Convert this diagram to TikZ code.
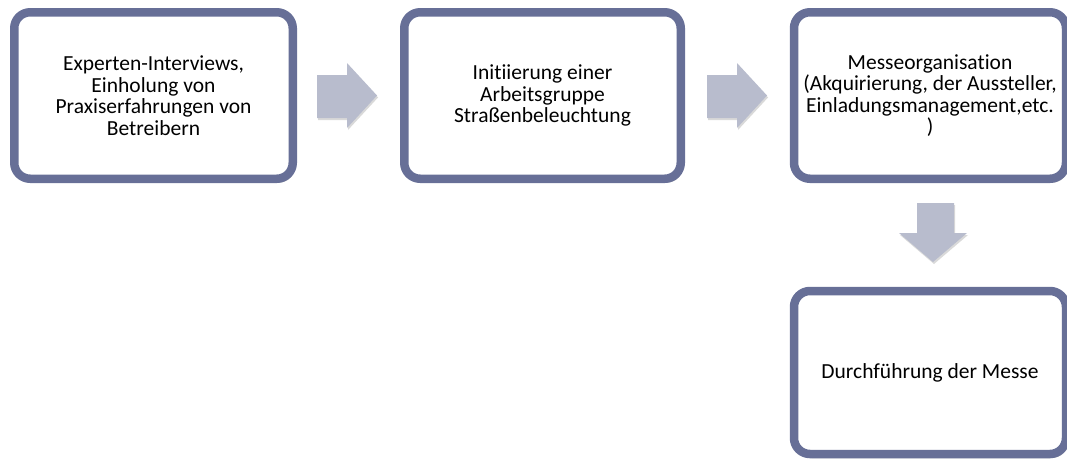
\documentclass[tikz,border=0pt]{standalone}
\usepackage{fontspec}
\setmainfont{Carlito}[RawFeature=-liga]
\usetikzlibrary{shadows}
\definecolor{boxline}{HTML}{676F97}
\definecolor{arrowfill}{HTML}{B8BCCD}
\tikzset{
  stepbox/.style={draw=boxline, line width=8.5pt, rounded corners=16pt, fill=white,
    inner sep=0pt, align=center, font=\fontsize{21.5}{21.6}\selectfont,
    drop shadow={shadow xshift=2pt, shadow yshift=-4pt, opacity=0.22, fill=black}},
  flowarrow/.style={fill=arrowfill, draw=none,
    drop shadow={shadow xshift=1pt, shadow yshift=-2pt, opacity=0.15, fill=black}}
}
\begin{document}
\begin{tikzpicture}[x=1pt,y=-1pt]
\useasboundingbox (0,0) rectangle (1067,459);
\begin{scope}
\clip (0,0) rectangle (1067,459);
\node[stepbox, minimum width=278.5pt, minimum height=166.5pt] (b1) at (153.5,95.5)
  {Experten-Interviews,\\Einholung von\\Praxiserfahrungen von\\Betreibern};
\node[stepbox, minimum width=276.5pt, minimum height=166.5pt] (b2) at (542.5,95.5)
  {Initiierung einer\\Arbeitsgruppe\\Straßenbeleuchtung};
\node[stepbox, minimum width=272pt, minimum height=166.5pt] (b3) at (930,95.5)
  {Messeorganisation\\(Akquirierung, der Aussteller,\\Einladungsmanagement,etc.\\)};
\node[stepbox, minimum width=272pt, minimum height=163pt] (b4) at (930,372.5)
  {Durchführung der Messe};
\end{scope}
% right arrow 1
\path[flowarrow] (317,75) -- (347,75) -- (347,63) -- (377,95.5) -- (347,128) -- (347,118) -- (317,118) -- cycle;
% right arrow 2
\path[flowarrow] (707,75) -- (737,75) -- (737,63) -- (767,95.5) -- (737,128) -- (737,118) -- (707,118) -- cycle;
% down arrow
\path[flowarrow] (917,203) -- (954,203) -- (954,233) -- (967,233) -- (933,262) -- (899,233) -- (917,233) -- cycle;
\end{tikzpicture}
\end{document}
